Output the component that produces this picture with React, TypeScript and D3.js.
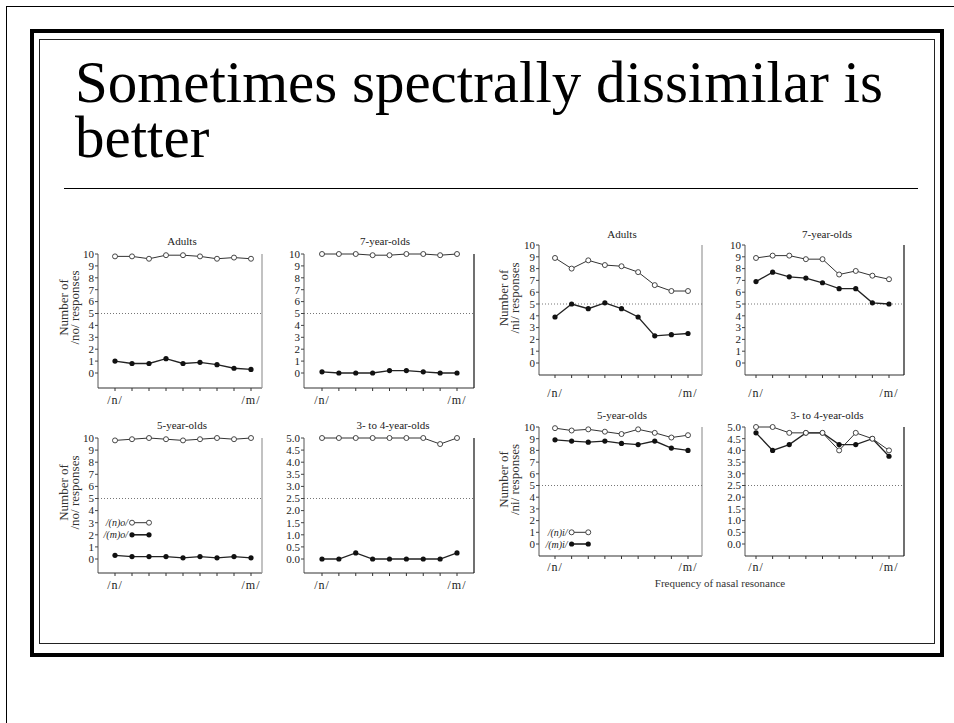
import React from 'react';
import * as d3 from 'd3';

// number of responses at the nine steps from /n/ to /m/
const noAdultsN = [9.8, 9.8, 9.6, 9.9, 9.9, 9.8, 9.6, 9.7, 9.6];
const noAdultsM = [1.0, 0.8, 0.8, 1.2, 0.8, 0.9, 0.7, 0.4, 0.3];
const no7N = [10, 10, 10, 9.9, 9.9, 10, 10, 9.9, 10];
const no7M = [0.1, 0, 0, 0, 0.2, 0.2, 0.1, 0, 0];
const no5N = [9.8, 9.9, 10, 9.9, 9.8, 9.9, 10, 9.9, 10];
const no5M = [0.3, 0.2, 0.2, 0.2, 0.1, 0.2, 0.1, 0.2, 0.1];
const no34N = [5, 5, 5, 5, 5, 5, 5, 4.75, 5];
const no34M = [0, 0, 0.25, 0, 0, 0, 0, 0, 0.25];

const niAdultsN = [8.9, 8.0, 8.7, 8.3, 8.2, 7.7, 6.6, 6.1, 6.1];
const niAdultsM = [3.9, 5.0, 4.6, 5.1, 4.6, 3.9, 2.3, 2.4, 2.5];
const ni7N = [8.9, 9.1, 9.1, 8.8, 8.8, 7.5, 7.8, 7.4, 7.1];
const ni7M = [6.9, 7.7, 7.3, 7.2, 6.8, 6.3, 6.3, 5.1, 5.0];
const ni5N = [9.9, 9.7, 9.8, 9.6, 9.4, 9.8, 9.5, 9.1, 9.3];
const ni5M = [8.9, 8.8, 8.7, 8.8, 8.6, 8.5, 8.8, 8.2, 8.0];
const ni34N = [5.0, 5.0, 4.75, 4.75, 4.75, 4.0, 4.75, 4.5, 4.0];
const ni34M = [4.75, 4.0, 4.25, 4.75, 4.75, 4.25, 4.25, 4.5, 3.75];

const ticks10 = [0, 1, 2, 3, 4, 5, 6, 7, 8, 9, 10];
const ticks5 = [0, 0.5, 1, 1.5, 2, 2.5, 3, 3.5, 4, 4.5, 5];
const steps = d3.range(9);

const font = '"Liberation Serif", "Times New Roman", serif';

function Panel(props: any) {
  const {ax, rx, yTop, y0, axisY, x1, x2, title, titleX, titleY, max, nVals, mVals,
    border, legend, labY, ylab, ylabX} = props;
  const x = d3.scalePoint<number>().domain(steps).range([x1, x2]);
  const y = d3.scaleLinear().domain([0, max]).range([y0, yTop]);
  const ticks = max === 10 ? ticks10 : ticks5;
  const fmt = max === 10 ? d3.format('d') : d3.format('.1f');
  const line = d3.line<number>().x((d, i) => x(i)!).y(d => y(d));
  return (
    <g fontFamily={font}>
      <text x={titleX} y={titleY} textAnchor="middle" fontSize={11} fill="#222">{title}</text>
      <line x1={ax} x2={ax} y1={yTop} y2={axisY} stroke="#555" strokeWidth={1}/>
      <line x1={ax} x2={rx} y1={axisY} y2={axisY} stroke="#333" strokeWidth={1.2}/>
      <line x1={rx} x2={rx} y1={yTop} y2={axisY} stroke={border} strokeWidth={1.2}/>
      {ticks.map(t => (
        <g key={t}>
          <line x1={ax - 3} x2={ax} y1={y(t)} y2={y(t)} stroke="#444"/>
          <text x={ax - 4} y={y(t) + 3.8} textAnchor="end" fontSize={11} fill="#222">{fmt(t)}</text>
        </g>
      ))}
      {steps.map(s => (
        <line key={s} x1={x(s)} x2={x(s)} y1={axisY} y2={axisY + 3} stroke="#333"/>
      ))}
      <line x1={ax} x2={rx} y1={y(max / 2)} y2={y(max / 2)} stroke="#666" strokeWidth={0.9}
        strokeDasharray="1,2"/>
      <text x={x(0)} y={labY} textAnchor="middle" fontSize={12} letterSpacing={1} fill="#222">/n/</text>
      <text x={x(8)} y={labY} textAnchor="middle" fontSize={12} letterSpacing={1} fill="#222">/m/</text>
      <path d={line(mVals) || ''} fill="none" stroke="#222" strokeWidth={1.3}/>
      <path d={line(nVals) || ''} fill="none" stroke="#333" strokeWidth={1}/>
      {mVals.map((v: number, i: number) => (
        <circle key={'m' + i} cx={x(i)} cy={y(v)} r={2.6} fill="#111"/>
      ))}
      {nVals.map((v: number, i: number) => (
        <circle key={'n' + i} cx={x(i)} cy={y(v)} r={2.5} fill="#fff" stroke="#333" strokeWidth={0.9}/>
      ))}
      {ylab && (
        <g transform={`translate(${ylabX},${(y0 + yTop) / 2 - 6}) rotate(-90)`} fontSize={13} fill="#333"
          textAnchor="middle">
          <text x={0} y={0}>Number of</text>
          <text x={0} y={11}>{ylab}</text>
        </g>
      )}
      {legend && (
        <g fontSize={10} fontStyle="italic" fill="#222">
          <text x={x(1)! - 4} y={y(legend.at) + 3.5} textAnchor="end">{legend.n}</text>
          <line x1={x(1)} x2={x(2)} y1={y(legend.at)} y2={y(legend.at)} stroke="#333"/>
          <circle cx={x(1)} cy={y(legend.at)} r={2.5} fill="#fff" stroke="#333" strokeWidth={0.9}/>
          <circle cx={x(2)} cy={y(legend.at)} r={2.5} fill="#fff" stroke="#333" strokeWidth={0.9}/>
          <text x={x(1)! - 4} y={y(legend.at - max / 10) + 3.5} textAnchor="end">{legend.m}</text>
          <line x1={x(1)} x2={x(2)} y1={y(legend.at - max / 10)} y2={y(legend.at - max / 10)}
            stroke="#222" strokeWidth={1.6}/>
          <circle cx={x(1)} cy={y(legend.at - max / 10)} r={2.6} fill="#111"/>
          <circle cx={x(2)} cy={y(legend.at - max / 10)} r={2.6} fill="#111"/>
        </g>
      )}
    </g>
  );
}

export default function App() {
  const leftTop = {yTop: 254, y0: 373, axisY: 388, titleY: 245, labY: 404};
  const leftBot = {yTop: 438, y0: 559, axisY: 573, titleY: 429, labY: 589};
  const rightTop = {yTop: 245, y0: 363, axisY: 375, titleY: 238, labY: 397};
  const rightBot = {yTop: 427, y0: 544, axisY: 556, titleY: 419, labY: 571};
  const c1 = {ax: 98, rx: 262, x1: 115, x2: 251};
  const c2 = {ax: 304, rx: 474, x1: 322, x2: 457};
  const c3 = {ax: 539, rx: 702, x1: 555, x2: 688};
  const c4 = {ax: 745, rx: 904, x1: 756, x2: 889};
  return (
    <svg width={954} height={723} style={{position: 'absolute', left: 0, top: 0, background: '#fff'}}>
      <rect x={0} y={0} width={954} height={723} fill="#fff"/>
      <line x1={6.5} x2={6.5} y1={6} y2={723} stroke="#000" strokeWidth={1}/>
      <line x1={6} x2={954} y1={6.5} y2={6.5} stroke="#000" strokeWidth={1}/>
      <rect x={32} y={31} width={910} height={624} fill="none" stroke="#000" strokeWidth={4}/>
      <rect x={39.5} y={39.5} width={895} height={604} fill="none" stroke="#222" strokeWidth={1}/>
      <text fontFamily={font} fontSize={59} fill="#000">
        <tspan x={75} y={102}>Sometimes spectrally dissimilar is</tspan>
        <tspan x={75} y={157}>better</tspan>
      </text>
      <line x1={64} x2={918} y1={188.5} y2={188.5} stroke="#000" strokeWidth={1}/>

      <Panel {...leftTop} {...c1} title="Adults" titleX={182} max={10} nVals={noAdultsN} mVals={noAdultsM}
        border="#999" ylab="/no/ responses" ylabX={68}/>
      <Panel {...leftTop} {...c2} title="7-year-olds" titleX={385} max={10} nVals={no7N} mVals={no7M}
        border="#111"/>
      <Panel {...leftBot} {...c1} title="5-year-olds" titleX={182} max={10} nVals={no5N} mVals={no5M}
        border="#999" ylab="/no/ responses" ylabX={68} legend={{at: 3, n: '/(n)o/', m: '/(m)o/'}}/>
      <Panel {...leftBot} {...c2} title="3- to 4-year-olds" titleX={393} max={5} nVals={no34N} mVals={no34M}
        border="#111"/>

      <Panel {...rightTop} {...c3} title="Adults" titleX={622} max={10} nVals={niAdultsN} mVals={niAdultsM}
        border="#999" ylab="/ni/ responses" ylabX={508}/>
      <Panel {...rightTop} {...c4} title="7-year-olds" titleX={827} max={10} nVals={ni7N} mVals={ni7M}
        border="#111"/>
      <Panel {...rightBot} {...c3} title="5-year-olds" titleX={622} max={10} nVals={ni5N} mVals={ni5M}
        border="#999" ylab="/ni/ responses" ylabX={508} legend={{at: 1, n: '/(n)i/', m: '/(m)i/'}}/>
      <Panel {...rightBot} {...c4} title="3- to 4-year-olds" titleX={827} max={5} nVals={ni34N} mVals={ni34M}
        border="#111"/>
      <text x={720} y={587} textAnchor="middle" fontFamily={font} fontSize={11} fill="#333">
        Frequency of nasal resonance
      </text>
    </svg>
  );
}
